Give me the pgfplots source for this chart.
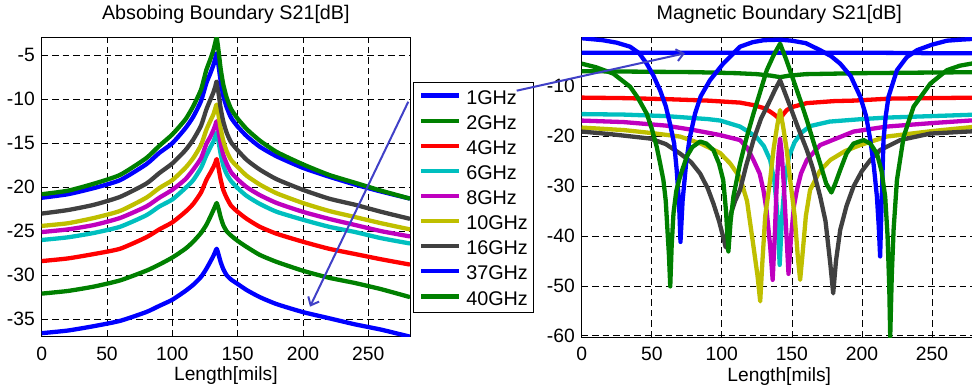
\documentclass[border=0pt]{standalone}
\usepackage{pgfplots}
\pgfplotsset{compat=1.18}
\usepackage{pgfplotstable}
\usepackage{fontspec}
\setmainfont{Liberation Sans}
\usetikzlibrary{arrows.meta}
\definecolor{mblue}{rgb}{0,0,1}
\definecolor{mgreen}{rgb}{0,0.5,0}
\definecolor{mred}{rgb}{1,0,0}
\definecolor{mcyan}{rgb}{0,0.75,0.75}
\definecolor{mmag}{rgb}{0.75,0,0.75}
\definecolor{myel}{rgb}{0.75,0.75,0}
\definecolor{mgray}{rgb}{0.25,0.25,0.25}
\definecolor{arrowc}{rgb}{0.25,0.25,0.78}

\pgfplotstableread{
x     f1    f2    f4    f6    f8    f10   f16   f37   f40
0     -36.6 -32.1 -28.4 -26.0 -25.1 -24.4 -23.0 -21.2 -20.8
20    -36.3 -31.8 -28.1 -25.7 -24.8 -24.1 -22.6 -20.8 -20.4
40    -35.8 -31.3 -27.6 -25.2 -24.3 -23.5 -22.0 -20.1 -19.6
60    -35.2 -30.6 -27.0 -24.5 -23.5 -22.7 -21.1 -19.2 -18.6
80    -34.2 -29.5 -25.7 -23.2 -22.2 -21.2 -19.6 -17.4 -16.7
90    -33.5 -28.8 -24.8 -22.2 -21.2 -20.1 -18.4 -16.1 -15.3
100   -32.8 -28.0 -24.0 -21.4 -20.3 -19.2 -17.3 -15.0 -14.0
110   -31.8 -27.0 -22.8 -20.1 -19.1 -17.8 -15.8 -13.3 -12.3
116   -31.1 -26.2 -21.9 -19.2 -18.0 -16.7 -14.6 -12.0 -10.8
122   -30.2 -25.2 -20.6 -17.8 -16.7 -15.2 -13.0 -10.2 -8.9
126   -29.3 -24.3 -19.2 -16.4 -15.1 -13.5 -11.2 -8.2  -6.7
129   -28.5 -23.4 -18.4 -15.5 -14.3 -12.5 -10.1 -7.1  -5.5
131.5 -27.8 -22.6 -17.7 -14.8 -13.5 -11.7 -9.2  -6.1  -4.4
133   -27.3 -22.1 -17.2 -14.2 -12.9 -11.0 -8.5  -5.3  -3.5
134   -27.0 -21.8 -16.8 -13.8 -12.5 -10.6 -8.0  -4.8  -3.0
135.5 -27.7 -22.5 -17.9 -14.9 -13.7 -11.9 -9.4  -6.3  -4.6
137   -28.5 -23.4 -19.1 -16.2 -15.0 -13.3 -11.0 -7.9  -6.5
139   -29.3 -24.3 -20.3 -17.5 -16.3 -14.7 -12.5 -9.6  -8.3
141.6 -30.0 -25.0 -21.2 -18.5 -17.3 -15.9 -13.8 -10.9 -9.8
145   -30.5 -25.5 -22.1 -19.3 -18.3 -16.9 -14.9 -12.1 -11.1
150   -31.0 -26.1 -22.8 -20.1 -19.1 -17.7 -15.8 -13.1 -12.2
157   -31.7 -26.8 -23.6 -21.0 -20.0 -18.7 -16.9 -14.2 -13.4
167   -32.5 -27.7 -24.5 -21.9 -20.9 -19.7 -18.0 -15.4 -14.7
180   -33.3 -28.5 -25.3 -22.8 -21.8 -20.7 -19.1 -16.5 -16.0
200   -34.2 -29.5 -26.2 -23.7 -22.8 -21.8 -20.3 -17.8 -17.4
220   -34.9 -30.3 -27.0 -24.5 -23.6 -22.7 -21.3 -18.8 -18.6
240   -35.6 -30.9 -27.6 -25.1 -24.3 -23.4 -22.0 -19.7 -19.5
260   -36.2 -31.6 -28.2 -25.8 -25.0 -24.1 -22.8 -20.5 -20.4
282   -37.0 -32.5 -28.8 -26.4 -25.6 -24.8 -23.6 -21.3 -21.3
}\absorb

\pgfplotsset{
  mlab/.style={
    scale only axis, anchor=south west,
    axis line style={line width=1bp},
    grid=major,
    major grid style={black, line width=0.7bp, dash pattern=on 6.5bp off 4bp},
    major tick length=0pt,
    tick label style={font=\fontsize{19.3bp}{23bp}\selectfont},
    /pgf/number format/assume math mode=true,
    xticklabel style={inner sep=0pt, yshift=-10bp},
    yticklabel style={inner sep=0pt, xshift=-6.7bp},
    label style={font=\fontsize{19.2bp}{23bp}\selectfont},
    xlabel style={at={(axis description cs:0.5,0)}, anchor=base, yshift=-44bp},
    title style={at={(axis description cs:0.5,1)}, anchor=base, yshift=12.7bp, font=\fontsize{19.7bp}{23bp}\selectfont},
    every axis plot/.append style={line width=4.3bp, line join=round, mark=none},
    xtick={0,50,...,250},
    xmin=0, xmax=282,
  }
}

\begin{document}
\begin{tikzpicture}
\begin{axis}[mlab,
  at={(41.7bp,50.3bp)}, width=368.3bp, height=299bp,
  ymin=-37, ymax=-3, ytick={-35,-30,...,-5},
  title={Absobing Boundary S21[dB]},
  xlabel={Length[mils]},
  legend style={at={(1.00815,0.8508)}, anchor=north west, draw=black, line width=0.9bp, fill=white,
    font=\fontsize{19.8bp}{23bp}\selectfont,
    inner xsep=5.5bp, inner ysep=7.5bp, row sep=11.1bp, column sep=5bp,
    nodes={inner sep=0pt, text height=14bp, text depth=0pt}},
  legend cell align=left,
  legend image code/.code={\path (0bp,1.7bp) -- (38bp,1.7bp); \draw[#1] (2bp,1.7bp) -- (38bp,1.7bp);},
  every axis plot/.append style={smooth, tension=0.35},
]
\addplot[mblue]  table[x=x,y=f1]  {\absorb};
\addplot[mgreen] table[x=x,y=f2]  {\absorb};
\addplot[mred]   table[x=x,y=f4]  {\absorb};
\addplot[mcyan]  table[x=x,y=f6]  {\absorb};
\addplot[mmag]   table[x=x,y=f8]  {\absorb};
\addplot[myel]   table[x=x,y=f10] {\absorb};
\addplot[mgray]  table[x=x,y=f16] {\absorb};
\addplot[mblue]  table[x=x,y=f37] {\absorb};
\addplot[mgreen] table[x=x,y=f40] {\absorb};
\legend{1GHz,2GHz,4GHz,6GHz,8GHz,10GHz,16GHz,37GHz,40GHz}
\end{axis}

\begin{axis}[mlab,
  at={(581.7bp,49.7bp)}, width=395.1bp, height=299.6bp,
  ymin=-60.3, ymax=-0.3, ytick={-60,-50,...,-10},
  title={Magnetic Boundary S21[dB]},
  xlabel={Length[mils]},
]
% 1GHz
\addplot[mblue] coordinates {(0,-3.3) (50,-3.3) (100,-3.3) (141.6,-3.3) (200,-3.3) (250,-3.4) (282,-3.4)};
% 2GHz
\addplot[mgreen] coordinates {(0,-7.0) (40,-7.1) (80,-7.2) (110,-7.4) (125,-7.6) (135,-7.9) (141.6,-8.2) (148,-7.9) (160,-7.6) (200,-7.4) (240,-7.3) (282,-7.2)};
% 4GHz
\addplot[mred] coordinates {(0,-12.3) (30,-12.4) (60,-12.6) (90,-12.9) (113,-13.3) (122.6,-13.8) (130,-14.4) (134.5,-15.1) (138,-15.8) (141.2,-16.6) (144,-15.6) (146.3,-14.8) (150,-14.2) (160.7,-13.4) (180,-13.0) (194,-12.9) (220,-12.5) (250,-12.4) (282,-12.3)};
% 6GHz
\addplot[mcyan] coordinates {(0,-15.6) (30,-15.7) (60,-16.0) (90,-16.6) (99,-16.9) (113,-18.1) (120,-19.3) (125,-20.3) (130,-22.0) (134.5,-24.8) (137.5,-29) (139.5,-35) (141.3,-45.8) (143,-36) (145,-29) (148,-24) (152,-21.2) (157,-19.3) (163,-18.0) (177,-17.1) (200,-16.6) (217.6,-16.3) (250,-16.0) (282,-15.7)};
% 8GHz
\addplot[mmag] coordinates {(0,-16.9) (30,-17.2) (60,-17.9) (80,-18.8) (98.8,-19.8) (113,-20.8) (118,-22.3) (122.6,-24.8) (127,-27.5) (129.7,-30.8) (132,-35) (134.5,-42) (136.3,-48.8) (137.8,-40) (139,-31) (140.5,-23.5) (141.6,-20.5) (142.8,-23.5) (144.3,-30) (145.8,-38) (147.6,-47.6) (149.5,-40) (151.5,-34) (153.6,-30.8) (156.5,-27.5) (160.7,-24.8) (170.2,-21.8) (194,-19.1) (217.6,-18.1) (250,-17.4) (282,-16.8)};
% 10GHz
\addplot[myel] coordinates {(0,-18.3) (30,-18.8) (50,-19.4) (70.2,-20.1) (85,-21.5) (98.8,-23.4) (106,-25.5) (113,-28.3) (118,-33) (122.6,-42.1) (125.5,-48) (127.4,-53.1) (129,-45) (131,-36) (134.5,-28.8) (137,-22.5) (139.5,-18) (141.6,-14.8) (143.7,-18) (146.2,-22.5) (148.8,-28.8) (152,-36) (154.2,-44) (155.9,-48.8) (157.5,-44) (160,-36) (163,-30.8) (170,-27) (177.4,-24.8) (188,-23) (198.8,-21.8) (217.6,-20.1) (250,-19.0) (282,-18.1)};
% 16GHz
\addplot[mgray] coordinates {(0,-19.1) (20,-19.6) (48.8,-20.5) (60,-21.6) (70.2,-23.5) (78,-25.2) (84.5,-27.5) (90,-30.5) (94,-33.5) (98,-37) (100.8,-40) (102.8,-42.3) (104.5,-38.5) (106.5,-35.5) (109.5,-33) (113,-30.8) (117.5,-25.8) (122.6,-20.8) (128,-16.5) (134.5,-12.8) (138,-10.7) (141.6,-8.8) (145,-11.3) (148.8,-14.1) (154,-18) (160.7,-22.8) (165,-26.5) (170.2,-32.1) (174,-37) (177.4,-45.5) (179.5,-51.5) (181.5,-45) (184.5,-38.8) (189,-34) (194,-30.1) (200,-27) (206,-24.8) (213,-22.8) (227.4,-20.8) (248.8,-19.5) (282,-19.0)};
% 37GHz
\addplot[mblue] coordinates {(0,-0.4) (15,-0.8) (25,-1.3) (34.5,-2.1) (41,-3.4) (46.4,-5.5) (51,-7.8) (55.9,-10.8) (60,-14.0) (63,-17.5) (66,-21.5) (67.8,-26.8) (69.5,-33.5) (70.5,-41.2) (72,-33) (74.5,-25.5) (77,-20.5) (80.9,-15.5) (85,-12) (91.6,-8.8) (101,-5.5) (113,-2.1) (122,-1.2) (130,-0.8) (141.7,-0.7) (150,-0.9) (160,-1.4) (170.2,-2.8) (178,-4.0) (184.5,-5.5) (192,-8.0) (198.8,-12.1) (203,-16) (206,-20.8) (208.5,-26) (210.7,-32.1) (212,-38) (213,-44.1) (214.2,-32) (215.4,-20.8) (217,-16) (219,-12.1) (225,-6.8) (232,-4.2) (239.3,-2.8) (250,-1.7) (260.7,-0.9) (270,-0.7) (282,-0.5)};
% 40GHz
\addplot[mgreen] coordinates {(0,-5.5) (10,-6.2) (22.6,-7.5) (34.5,-10.1) (40,-12.3) (46.4,-15.5) (50,-18.5) (53.5,-22.1) (56,-25.5) (58.3,-28.8) (60,-33) (61.2,-38.8) (62.3,-44) (63.2,-50.1) (64.2,-42) (65.5,-35.5) (67.5,-31) (70.2,-28.1) (75,-24.1) (79,-22.2) (84.5,-21.1) (89,-21.5) (94,-22.8) (98,-25.5) (101,-28.8) (103,-35) (104.7,-43.1) (106.3,-37) (108.3,-32.1) (113,-25.5) (117.5,-20.5) (122.6,-15.5) (127,-11.5) (132.1,-6.8) (137,-3.8) (141.6,-1.5) (146,-4.7) (151.1,-8.8) (156,-12.8) (160.7,-16.8) (165,-20.8) (170.2,-25.5) (174.5,-29.5) (178.2,-31.3) (181,-29.5) (184.5,-26.8) (189,-23.5) (194,-21.5) (201.2,-20.8) (206,-21.5) (210.7,-23.5) (214,-27) (216.6,-32.1) (218.3,-40) (219.5,-50) (220.2,-60.2) (221.3,-48) (222.6,-38.8) (225,-28.8) (229.8,-20.1) (236.9,-14.1) (248.8,-9.5) (260.7,-6.8) (270,-5.9) (282,-5.3)};
\end{axis}

\draw[arrowc, line width=2bp, -{Straight Barb[length=7bp,width=12bp]}] (408.3bp,285.3bp) -- (310bp,80.3bp);
\draw[arrowc, line width=2bp, -{Straight Barb[length=7bp,width=12bp]}] (516.7bp,296.3bp) -- (685bp,333.7bp);

\pgfresetboundingbox
\path[use as bounding box] (0,0) rectangle (972bp,387bp);
\end{tikzpicture}
\end{document}
